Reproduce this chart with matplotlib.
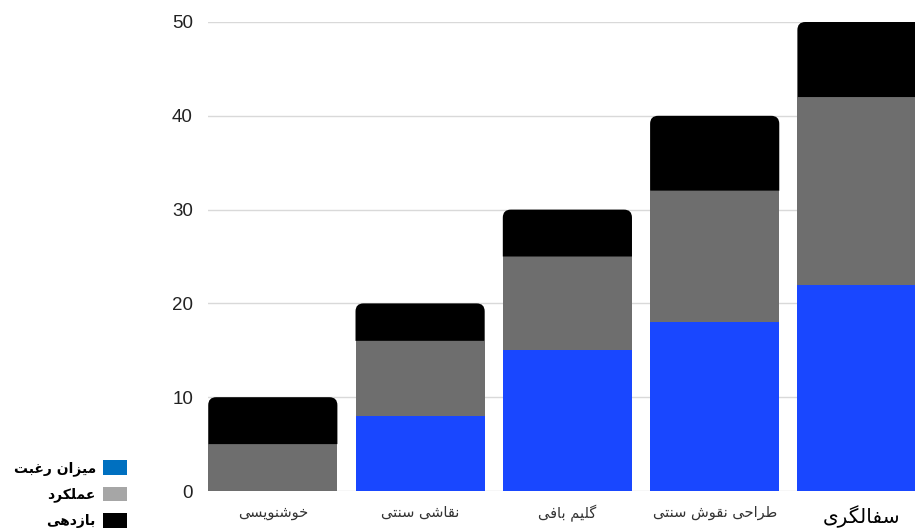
import matplotlib
matplotlib.use("Agg")
import matplotlib.pyplot as plt
from matplotlib.patches import Patch, PathPatch
from matplotlib.path import Path
import numpy as np

# ---------------- data ----------------
categories = ["خوشنویسی", "نقاشی سنتی", "گلیم بافی", "طراحی نقوش سنتی", "سفالگری"]
series_names = ["میزان رغبت", "عملکرد", "بازدهی"]
interest = [0, 8, 15, 18, 22]      # میزان رغبت
performance = [5, 8, 10, 14, 20]   # عملکرد
efficiency = [5, 4, 5, 8, 8]       # بازدهی
y_ticks = [0, 10, 20, 30, 40, 50]

bar_colors = ["#1947ff", "#6e6e6e", "#000000"]
legend_colors = ["#0070c0", "#a6a6a6", "#000000"]

# ---------------- minimal Persian shaping for display ----------------
FORMS = {  # isolated, final, initial, medial
    "ا": ("\uFE8D", "\uFE8E", None, None),
    "ب": ("\uFE8F", "\uFE90", "\uFE91", "\uFE92"),
    "ت": ("\uFE95", "\uFE96", "\uFE97", "\uFE98"),
    "ح": ("\uFEA1", "\uFEA2", "\uFEA3", "\uFEA4"),
    "خ": ("\uFEA5", "\uFEA6", "\uFEA7", "\uFEA8"),
    "د": ("\uFEA9", "\uFEAA", None, None),
    "ر": ("\uFEAD", "\uFEAE", None, None),
    "ز": ("\uFEAF", "\uFEB0", None, None),
    "س": ("\uFEB1", "\uFEB2", "\uFEB3", "\uFEB4"),
    "ش": ("\uFEB5", "\uFEB6", "\uFEB7", "\uFEB8"),
    "ط": ("\uFEC1", "\uFEC2", "\uFEC3", "\uFEC4"),
    "ع": ("\uFEC9", "\uFECA", "\uFECB", "\uFECC"),
    "غ": ("\uFECD", "\uFECE", "\uFECF", "\uFED0"),
    "ف": ("\uFED1", "\uFED2", "\uFED3", "\uFED4"),
    "ق": ("\uFED5", "\uFED6", "\uFED7", "\uFED8"),
    "ل": ("\uFEDD", "\uFEDE", "\uFEDF", "\uFEE0"),
    "م": ("\uFEE1", "\uFEE2", "\uFEE3", "\uFEE4"),
    "ن": ("\uFEE5", "\uFEE6", "\uFEE7", "\uFEE8"),
    "ه": ("\uFEE9", "\uFEEA", "\uFEEB", "\uFEEC"),
    "و": ("\uFEED", "\uFEEE", None, None),
    "ک": ("\uFB8E", "\uFB8F", "\uFB90", "\uFB91"),
    "گ": ("\uFB92", "\uFB93", "\uFB94", "\uFB95"),
    "ی": ("\uFBFC", "\uFBFD", "\uFBFE", "\uFBFF"),
}


def shape(text):
    out = []
    n = len(text)
    for i, ch in enumerate(text):
        if ch not in FORMS:
            out.append(ch)
            continue
        prev = text[i - 1] if i > 0 else None
        nxt = text[i + 1] if i < n - 1 else None
        join_prev = prev in FORMS and FORMS[prev][2] is not None
        join_next = nxt in FORMS and FORMS[ch][2] is not None
        iso, fin, ini, med = FORMS[ch]
        if join_prev and join_next:
            out.append(med)
        elif join_prev:
            out.append(fin)
        elif join_next:
            out.append(ini)
        else:
            out.append(iso)
    return "".join(reversed(out))


# ---------------- figure ----------------
fig = plt.figure(figsize=(9.15, 5.29), dpi=100)
ax = fig.add_axes([208 / 915, 38 / 529, 1 - 208 / 915, (491 - 22) / 529])

x = np.arange(len(categories))
width = 0.877
b1 = ax.bar(x, interest, width, color=bar_colors[0], zorder=2)
bottom2 = np.array(interest)
b2 = ax.bar(x, performance, width, bottom=bottom2, color=bar_colors[1], zorder=2)
bottom3 = bottom2 + np.array(performance)
b3 = ax.bar(x, efficiency, width, bottom=bottom3, color=bar_colors[2], zorder=2)

ax.set_xlim(-0.44, 4.36)
ax.set_ylim(0, 50)
ax.set_yticks(y_ticks)
ax.yaxis.grid(True, color="#d9d9d9", linewidth=1)
ax.set_axisbelow(True)
for s in ax.spines.values():
    s.set_visible(False)
ax.tick_params(axis="both", length=0)
ax.tick_params(axis="y", pad=10.8, labelsize=13.5, labelcolor="#222222")
for t in ax.get_yticklabels():
    t.set_family("Liberation Sans")

ax.set_xticks(x)
ax.set_xticklabels([shape(c) for c in categories], family="DejaVu Sans",
                   fontsize=10.5, color="#333333")
ax.tick_params(axis="x", pad=10)
last = ax.get_xticklabels()[-1]
last.set_fontsize(14.5)
last.set_color("#000000")

# rounded top corners for the topmost segment
fig.canvas.draw()
p0 = ax.transData.transform((0, 0))
p1 = ax.transData.transform((1, 1))
r_px = 8
rx = r_px / (p1[0] - p0[0])
ry = r_px / (p1[1] - p0[1])
for rect in b3.patches:
    x0, y0 = rect.get_x(), rect.get_y()
    w, h = rect.get_width(), rect.get_height()
    verts = [(x0, y0), (x0 + w, y0), (x0 + w, y0 + h - ry),
             (x0 + w, y0 + h), (x0 + w - rx, y0 + h),
             (x0 + rx, y0 + h), (x0, y0 + h), (x0, y0 + h - ry), (x0, y0)]
    codes = [Path.MOVETO, Path.LINETO, Path.LINETO,
             Path.CURVE3, Path.CURVE3, Path.LINETO,
             Path.CURVE3, Path.CURVE3, Path.CLOSEPOLY]
    pp = PathPatch(Path(verts, codes), facecolor=rect.get_facecolor(),
                   edgecolor="none", zorder=2)
    rect.remove()
    ax.add_patch(pp)

# legend
handles = [Patch(facecolor=c, edgecolor="none") for c in legend_colors]
fig.legend(handles, [shape(s) for s in series_names], loc="upper right",
           bbox_to_anchor=(127 / 915, 1 - 460 / 529), frameon=False,
           markerfirst=False, borderpad=0, borderaxespad=0,
           handlelength=1.75, handleheight=1.25, handletextpad=0.5,
           labelspacing=0.78,
           prop={"family": "DejaVu Sans", "weight": "bold", "size": 10})

fig.savefig("out.png", dpi=100)
